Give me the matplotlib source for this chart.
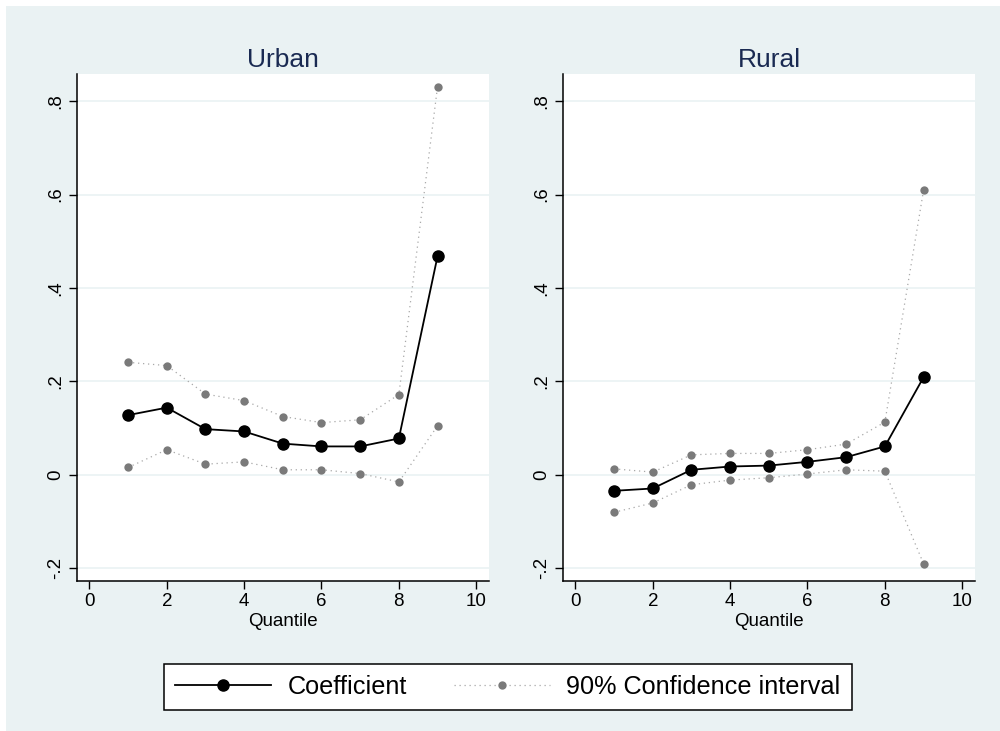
import matplotlib
matplotlib.use("Agg")
import matplotlib.pyplot as plt
from matplotlib.lines import Line2D
from matplotlib.patches import Rectangle

plt.rcParams['font.family'] = ['Liberation Sans', 'DejaVu Sans']

quantiles = [1, 2, 3, 4, 5, 6, 7, 8, 9]

# Urban
urban_coef = [0.128, 0.144, 0.098, 0.093, 0.067, 0.061, 0.061, 0.078, 0.468]
urban_upper = [0.241, 0.234, 0.173, 0.159, 0.125, 0.112, 0.118, 0.172, 0.831]
urban_lower = [0.016, 0.054, 0.023, 0.028, 0.011, 0.011, 0.003, -0.015, 0.105]

# Rural
rural_coef = [-0.034, -0.029, 0.011, 0.018, 0.020, 0.028, 0.038, 0.061, 0.209]
rural_upper = [0.013, 0.006, 0.043, 0.046, 0.046, 0.054, 0.066, 0.113, 0.609]
rural_lower = [-0.080, -0.060, -0.021, -0.011, -0.006, 0.002, 0.011, 0.008, -0.190]

panel_titles = ["Urban", "Rural"]
y_ticks = [-0.2, 0, 0.2, 0.4, 0.6, 0.8]
y_ticklabels = ["-.2", "0", ".2", ".4", ".6", ".8"]
x_ticks = [0, 2, 4, 6, 8, 10]

BG = "#eaf2f3"
TITLE_C = "#1a2a52"
CI_C = "#7a7a7a"
CI_LINE = "#a8a8a8"

W, H = 1000, 731
fig = plt.figure(figsize=(W / 100, H / 100), dpi=100)
fig.patch.set_facecolor("white")
# Stata 风格的浅色背景（放在最底层）
fig.add_artist(Rectangle((6 / W, 0), 1 - 6 / W, 1 - 6 / H,
                         transform=fig.transFigure, facecolor=BG,
                         edgecolor="none", zorder=-10))

def px_rect(x0, x1, y0, y1):
    return [x0 / W, 1 - y1 / H, (x1 - x0) / W, (y1 - y0) / H]

axes_pos = [px_rect(77, 489, 74, 581), px_rect(563, 975, 74, 581)]
data = [(urban_coef, urban_upper, urban_lower),
        (rural_coef, rural_upper, rural_lower)]

for pos, title, (coef, upper, lower) in zip(axes_pos, panel_titles, data):
    ax = fig.add_axes(pos)
    ax.set_facecolor("white")
    for ci in (upper, lower):
        ax.plot(quantiles, ci, color=CI_LINE, linestyle=(0, (1, 3)), linewidth=0.9,
                zorder=2)
        ax.plot(quantiles, ci, linestyle="none", marker="o", markersize=6,
                color=CI_C, markeredgewidth=0, zorder=3)
    ax.plot(quantiles, coef, color="black", linewidth=1.3, marker="o",
            markersize=8, zorder=4)

    ax.set_xlim(-0.32, 10.33)
    ax.set_ylim(-0.227, 0.858)
    ax.set_xticks(x_ticks)
    ax.set_yticks(y_ticks)
    ax.set_yticklabels(y_ticklabels, rotation=90, va="center")
    ax.tick_params(axis="both", direction="out", length=6, width=1, labelsize=13.5,
                   color="black", pad=3)
    ax.grid(axis="y", color=BG, linewidth=1.2)
    ax.set_axisbelow(True)
    for s in ("top", "right"):
        ax.spines[s].set_visible(False)
    for s in ("left", "bottom"):
        ax.spines[s].set_linewidth(1.1)
    ax.set_xlabel("Quantile", fontsize=13.5, labelpad=2)
    ax.set_title(title, fontsize=19, color=TITLE_C, pad=5)

handles = [
    Line2D([], [], color="black", linewidth=1.3, marker="o", markersize=8),
    Line2D([], [], color=CI_LINE, linestyle=(0, (1, 3)), linewidth=0.9, marker="o",
           markersize=6, markerfacecolor=CI_C, markeredgewidth=0),
]
leg = fig.legend(handles, ["Coefficient", "90% Confidence interval"],
                 loc="center", bbox_to_anchor=(508 / W, 1 - 687 / H), ncol=2,
                 fontsize=18.2, frameon=True, fancybox=False, edgecolor="black",
                 facecolor="white", framealpha=1,
                 handlelength=3.8, handletextpad=0.65, columnspacing=1.85,
                 borderpad=0.45, borderaxespad=0)
leg.get_frame().set_linewidth(1.1)

fig.savefig("out.png", dpi=100)
